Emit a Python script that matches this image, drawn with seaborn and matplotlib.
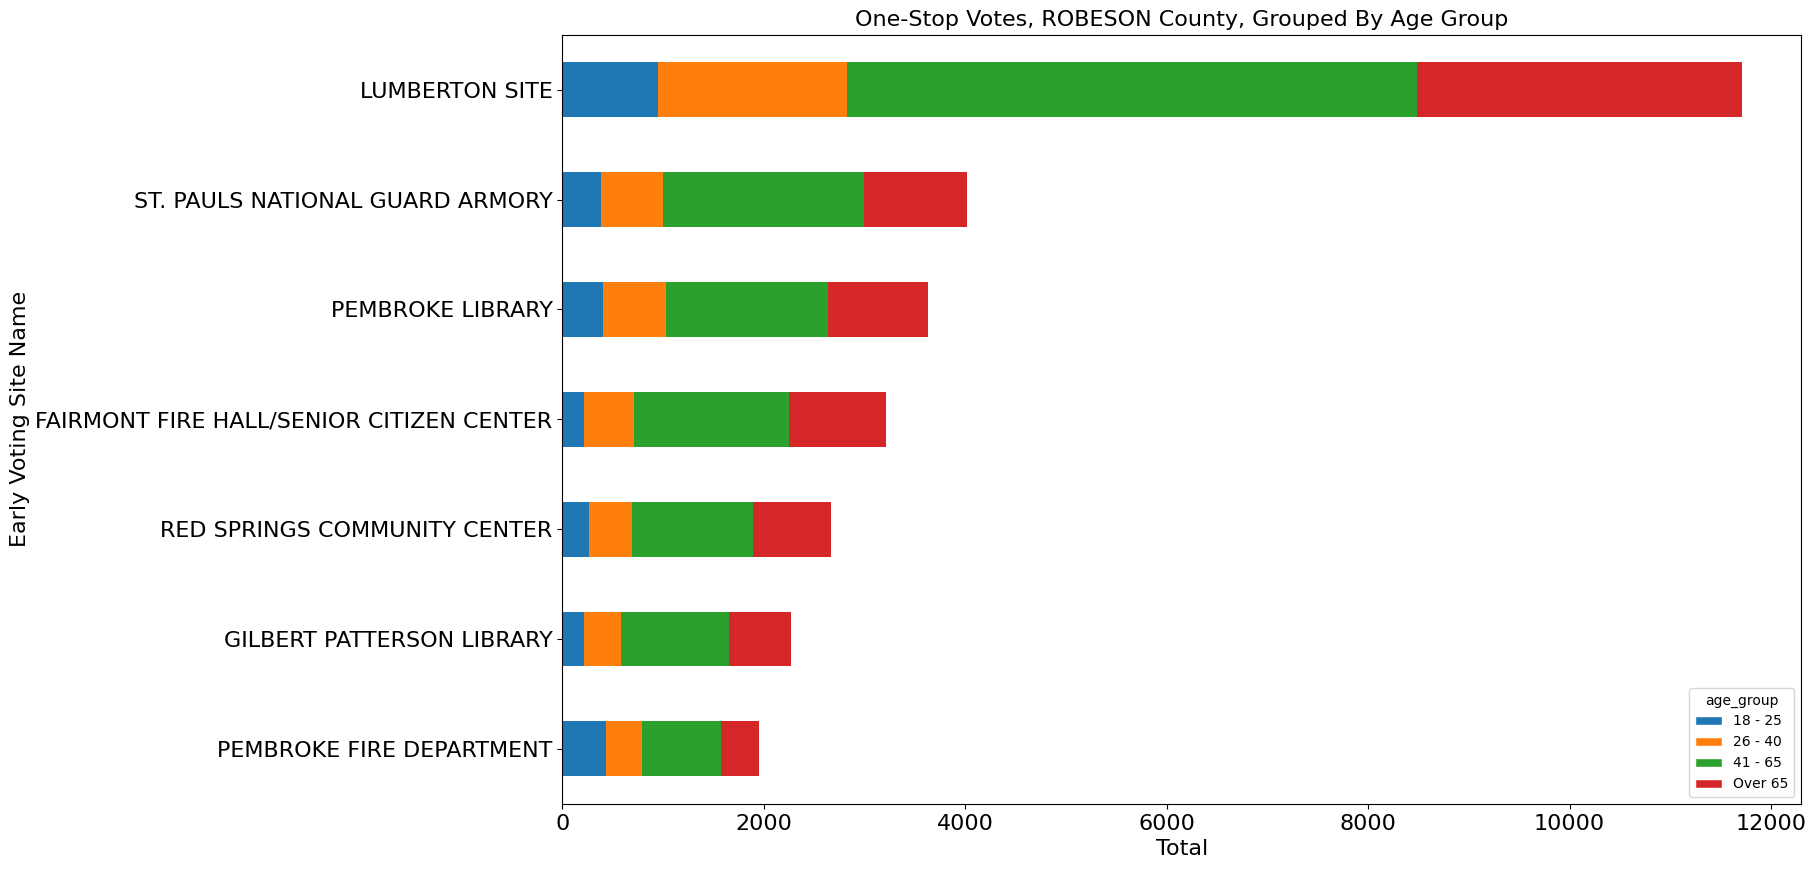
import pandas as pd
import numpy as np
import matplotlib
matplotlib.use('Agg')
import matplotlib.pyplot as plt
import seaborn as sns
from matplotlib.patches import Patch

# Early voting sites, largest total first (top of chart)
sites = ['LUMBERTON SITE', 'ST. PAULS NATIONAL GUARD ARMORY', 'PEMBROKE LIBRARY',
         'FAIRMONT FIRE HALL/SENIOR CITIZEN CENTER', 'RED SPRINGS COMMUNITY CENTER',
         'GILBERT PATTERSON LIBRARY', 'PEMBROKE FIRE DEPARTMENT']
age_groups = ['18 - 25', '26 - 40', '41 - 65', 'Over 65']

votes_18_25 = [945, 381, 401, 212, 262, 212, 431]
votes_26_40 = [1885, 616, 626, 497, 427, 368, 357]
votes_41_65 = [5654, 1997, 1610, 1543, 1202, 1073, 785]
votes_over_65 = [3231, 1023, 994, 960, 775, 616, 377]

colors = ['#1f77b4', '#ff7f0e', '#2ca02c', '#d62728']

df = pd.DataFrame({'18 - 25': votes_18_25, '26 - 40': votes_26_40,
                   '41 - 65': votes_41_65, 'Over 65': votes_over_65}, index=sites)
cum = df.cumsum(axis=1)

sns.set_style('ticks')
plt.rcParams['font.family'] = ['DejaVu Sans']
for key in ['text.color', 'axes.labelcolor', 'xtick.color', 'ytick.color', 'axes.edgecolor']:
    plt.rcParams[key] = 'black'

fig = plt.figure(figsize=(18.14, 8.69), dpi=100)
ax = fig.add_axes([0.310, 0.075, 0.683, 0.885])

# draw cumulative totals from the outermost segment inward so they stack
for grp, col in reversed(list(zip(age_groups, colors))):
    sns.barplot(x=cum[grp].values, y=sites, order=sites, color=col, width=0.5,
                orient='h', linewidth=0, saturation=1, ax=ax)

ax.set_xlim(0, cum['Over 65'].max() * 1.05)
ax.set_ylim(len(sites) - 0.5, -0.5)
ax.set_title('One-Stop Votes, ROBESON County, Grouped By Age Group', fontsize=16)
ax.set_xlabel('Total', fontsize=16)
ax.set_ylabel('Early Voting Site Name', fontsize=16)
ax.tick_params(labelsize=16)

handles = [Patch(facecolor=c, label=g) for g, c in zip(age_groups, colors)]
ax.legend(handles=handles, title='age_group', loc='lower right', fontsize=10, title_fontsize=10)

fig.savefig('out.png', dpi=100)
